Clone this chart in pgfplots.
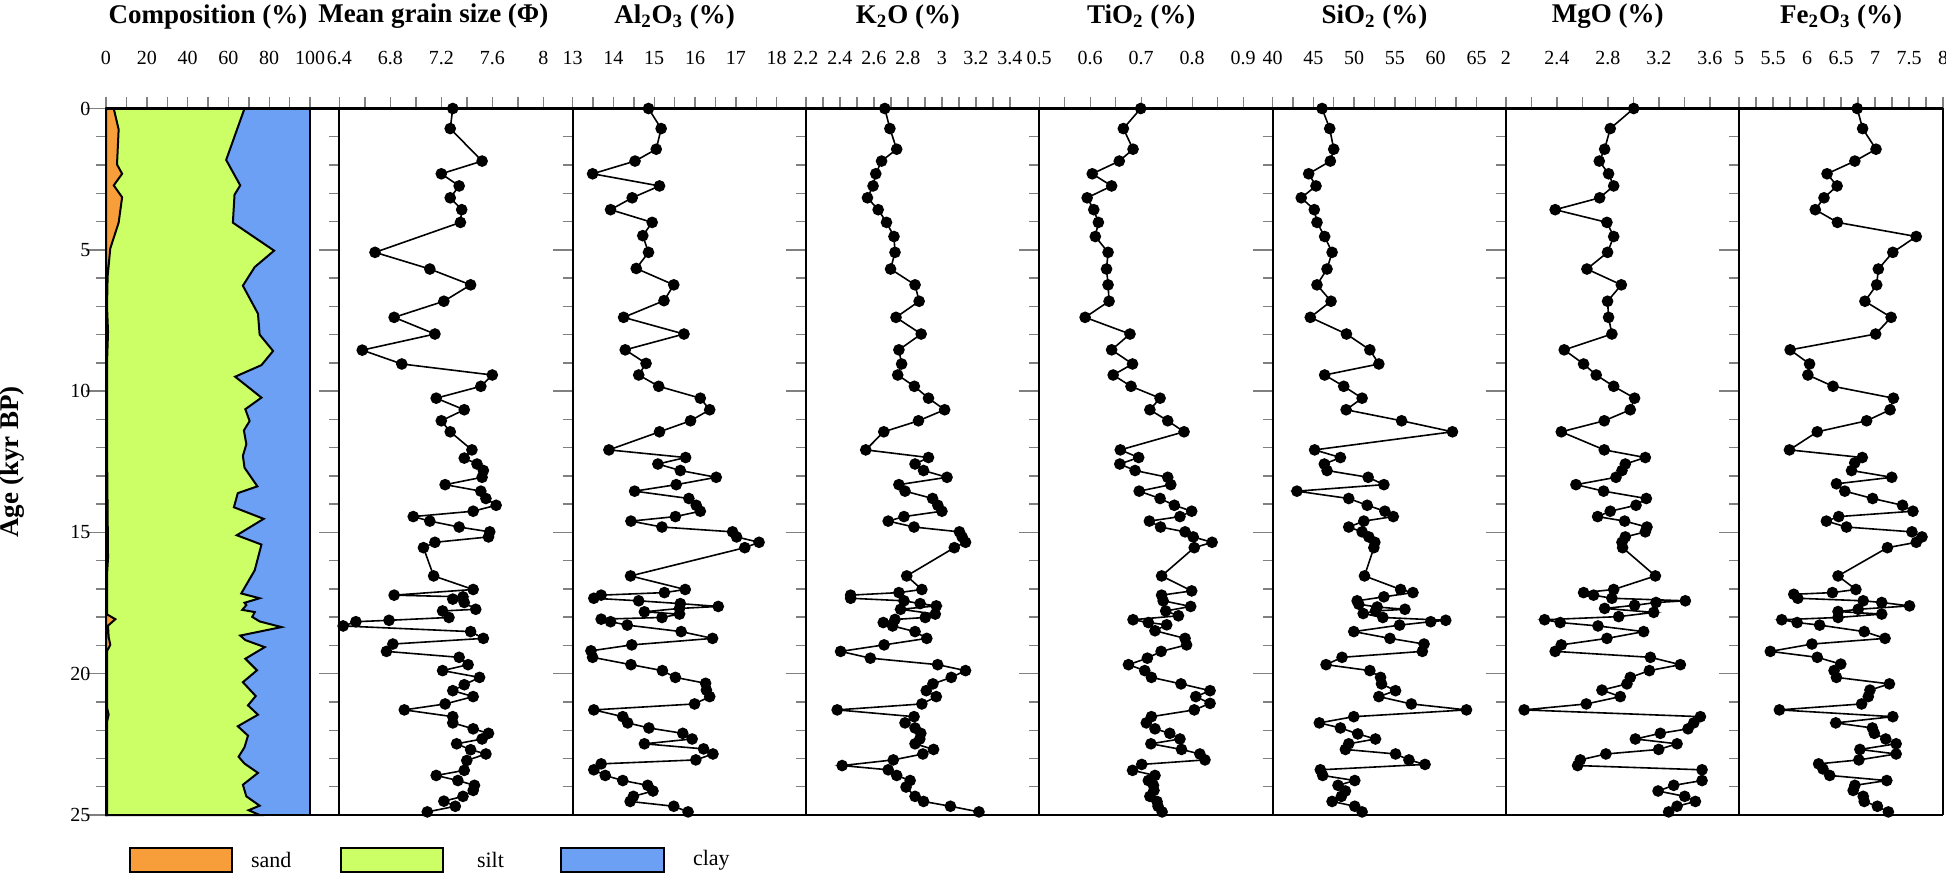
\documentclass[border=0pt]{standalone}
\usepackage{fontspec}
\setmainfont{Liberation Serif}
\usepackage{pgfplots}
\pgfplotsset{compat=1.18}
\definecolor{sandc}{RGB}{247,158,58}
\definecolor{siltc}{RGB}{204,255,102}
\definecolor{clayc}{RGB}{108,160,245}
\tikzset{ttl/.style={font=\bfseries\fontsize{13.5}{16}\selectfont, anchor=center, yshift=46pt}}
\pgfplotsset{
 panel/.style={
  scale only axis, width=102pt, height=353.25pt,
  ymin=0, ymax=25, y dir=reverse,
  axis x line*=top, axis y line*=left,
  tick align=outside,
  ytick={0,5,10,15,20,25}, minor y tick num=4,
  x axis line style={line width=1.5pt},
  y axis line style={line width=1pt},
  xtick style={line width=0.7pt, /pgfplots/major tick length=6pt, /pgfplots/minor tick length=6pt},
  ytick style={line width=0.7pt, /pgfplots/major tick length=10pt, /pgfplots/minor tick length=5pt},
  /pgf/number format/assume math mode=true,
  tick label style={font=\fontsize{10}{12}\selectfont},
  xticklabel style={yshift=14pt},
  clip=false,
 },
 ser/.style={black, line width=0.8pt, mark=*, mark size=2.5pt, mark options={solid,fill=black}},
}
\begin{document}
\begin{tikzpicture}
\useasboundingbox (0,0) rectangle (973pt,442.5pt);
% Panel 1: composition
\begin{axis}[panel, at={(53pt,35pt)}, anchor=south west,
  xmin=0, xmax=100, xtick={0,20,40,60,80,100}, minor x tick num=1,
  ylabel={Age (kyr BP)},
  ylabel style={at={(axis description cs:-0.46,0.5)}, anchor=center, font=\bfseries\fontsize{13.5}{16}\selectfont}]
\addplot[fill=clayc, draw=none] coordinates {(0,0) (100,0) (100,25) (0,25)} -- cycle;
\addplot[fill=siltc, draw=black, line width=1pt] coordinates {(0,0) (67.9,0) (58.9,1.82) (65.8,2.72) (63.0,3.05) (62.2,4.04) (82.4,5.03) (72.9,5.61) (67.1,6.27) (74.5,7.26) (75.3,8.0) (81.9,8.58) (76.2,9.08) (63.3,9.49) (76.2,10.23) (68.3,10.64) (70.4,11.06) (67.6,11.39) (68.8,11.88) (67.1,12.29) (67.9,12.71) (74.2,13.37) (64.6,13.61) (62.7,14.11) (77.3,14.52) (64.1,15.1) (76.2,15.43) (72.9,16.34) (66.3,17.16) (75.3,17.33) (67.9,17.49) (68.8,17.57) (66.8,17.74) (72.9,17.82) (71.7,17.99) (75.3,18.15) (86.0,18.35) (65.8,18.65) (68.3,18.81) (77.8,19.06) (68.3,19.47) (74.0,19.88) (67.1,20.3) (73.4,20.79) (69.6,21.12) (74.5,21.45) (64.6,21.86) (69.6,22.19) (67.9,22.6) (65.0,22.94) (67.9,23.18) (74.5,23.51) (67.1,23.93) (68.8,24.34) (75.3,24.67) (69.9,24.83) (75.3,25) (0,25)} -- cycle;
\addplot[fill=sandc, draw=black, line width=1pt] coordinates {(0,0) (3.8,0) (6.2,0.74) (5.4,1.98) (7.9,2.31) (3.8,2.72) (7.9,3.14) (6.2,4.04) (2.1,4.95) (0.8,5.94) (0.5,7.0) (1.0,7.9) (0.5,9.0) (0.5,12.0) (1.0,15.9) (0.5,16.5) (0.5,17.9) (4.6,18.07) (1.0,18.3) (1.3,18.7) (2.1,18.98) (0.5,19.2) (0.5,21.2) (1.3,21.45) (0.5,21.7) (0.5,25) (0,25)} -- cycle;
\node[ttl] at (axis description cs:0.5,1) {Composition (\%)};
\end{axis}
% Panel 2: grain size
\begin{axis}[panel, at={(169.65pt,35pt)}, anchor=south west, yticklabels={},
  xmin=6.4, xmax=8, xtick={6.4,6.8,7.2,7.6,8}, minor x tick num=1]
\addplot[ser] coordinates {(7.29,0) (7.27,0.71) (7.52,1.86) (7.20,2.31) (7.34,2.74) (7.27,3.16) (7.36,3.58) (7.35,4.03) (6.68,5.09) (7.11,5.68) (7.43,6.24) (7.22,6.82) (6.83,7.39) (7.15,7.98) (6.58,8.55) (6.89,9.04) (7.60,9.43) (7.51,9.83) (7.16,10.25) (7.38,10.66) (7.20,11.05) (7.27,11.44) (7.44,12.08) (7.38,12.37) (7.48,12.58) (7.53,12.81) (7.52,13.05) (7.23,13.31) (7.51,13.54) (7.55,13.80) (7.63,14.04) (7.45,14.25) (6.98,14.44) (7.11,14.60) (7.34,14.81) (7.58,14.98) (7.57,15.16) (7.15,15.35) (7.06,15.54) (7.14,16.54) (7.45,17.02) (6.83,17.22) (7.37,17.28) (7.29,17.36) (7.38,17.48) (7.47,17.72) (7.21,17.78) (7.26,18.01) (6.79,18.11) (6.53,18.16) (6.43,18.31) (7.43,18.51) (7.53,18.75) (6.82,18.95) (6.77,19.21) (7.34,19.42) (7.41,19.68) (7.21,19.89) (7.50,20.13) (7.38,20.39) (7.29,20.60) (7.45,20.81) (7.23,21.07) (6.91,21.28) (7.29,21.52) (7.29,21.74) (7.45,21.95) (7.57,22.11) (7.52,22.31) (7.32,22.48) (7.43,22.69) (7.55,22.84) (7.40,23.07) (7.38,23.42) (7.16,23.60) (7.33,23.78) (7.46,23.95) (7.45,24.13) (7.37,24.34) (7.22,24.51) (7.31,24.69) (7.09,24.89)};
\node[ttl, xshift=-4pt] at (axis description cs:0.5,1) {Mean grain size (Φ)};
\end{axis}
% Panel 3: Al2O3
\begin{axis}[panel, at={(286.3pt,35pt)}, anchor=south west, yticklabels={},
  xmin=13, xmax=18, xtick={13,14,15,16,17,18}, minor x tick num=1]
\addplot[ser] coordinates {(14.86,0) (15.17,0.71) (15.05,1.44) (14.53,1.86) (13.49,2.31) (15.13,2.74) (14.46,3.16) (13.93,3.58) (14.95,4.03) (14.72,4.50) (14.86,5.09) (14.56,5.66) (15.48,6.24) (15.24,6.80) (14.25,7.39) (15.73,7.98) (14.29,8.54) (14.80,9.02) (14.62,9.43) (15.11,9.83) (16.13,10.25) (16.36,10.66) (15.89,11.05) (15.13,11.44) (13.89,12.08) (15.77,12.35) (15.09,12.58) (15.64,12.81) (16.52,13.05) (15.54,13.31) (14.52,13.54) (15.85,13.80) (16.03,14.04) (16.13,14.25) (15.52,14.44) (14.43,14.60) (15.19,14.81) (16.92,14.98) (17.02,15.16) (17.57,15.35) (17.22,15.54) (14.42,16.54) (15.76,17.02) (15.25,17.13) (13.70,17.22) (13.52,17.33) (14.62,17.42) (15.64,17.52) (16.57,17.62) (15.62,17.69) (14.76,17.81) (15.62,17.89) (15.19,18.01) (13.70,18.07) (13.93,18.16) (14.34,18.28) (15.66,18.51) (16.43,18.75) (14.45,18.98) (13.45,19.19) (13.49,19.42) (14.43,19.68) (15.20,19.89) (15.52,20.13) (16.26,20.34) (16.28,20.58) (16.36,20.81) (15.99,21.07) (13.52,21.28) (14.23,21.52) (14.35,21.74) (14.87,21.92) (15.70,22.11) (15.93,22.31) (14.76,22.48) (16.21,22.66) (16.44,22.84) (16.02,23.05) (13.70,23.19) (13.52,23.40) (13.80,23.60) (14.23,23.78) (14.84,23.95) (14.97,24.15) (14.49,24.34) (14.41,24.52) (15.48,24.69) (15.83,24.89)};
\node[ttl] at (axis description cs:0.5,1) {Al\textsubscript{2}O\textsubscript{3} (\%)};
\end{axis}
% Panel 4: K2O
\begin{axis}[panel, at={(402.95pt,35pt)}, anchor=south west, yticklabels={},
  xmin=2.2, xmax=3.4, xtick={2.2,2.4,2.6,2.8,3,3.2,3.4}, minor x tick num=1]
\addplot[ser] coordinates {(2.664,0) (2.694,0.71) (2.734,1.44) (2.645,1.86) (2.611,2.31) (2.595,2.74) (2.562,3.16) (2.625,3.58) (2.674,4.03) (2.718,4.53) (2.724,5.09) (2.698,5.68) (2.842,6.24) (2.866,6.82) (2.730,7.39) (2.878,7.98) (2.747,8.54) (2.763,9.04) (2.740,9.43) (2.838,9.83) (2.921,10.25) (3.016,10.66) (2.862,11.05) (2.658,11.44) (2.552,12.08) (2.921,12.35) (2.842,12.58) (2.892,12.81) (3.030,13.05) (2.747,13.31) (2.783,13.54) (2.945,13.80) (2.976,14.04) (3.000,14.25) (2.777,14.44) (2.684,14.60) (2.836,14.81) (3.103,14.98) (3.119,15.16) (3.139,15.35) (3.073,15.54) (2.793,16.54) (2.882,17.02) (2.747,17.13) (2.463,17.22) (2.463,17.33) (2.777,17.42) (2.872,17.52) (2.967,17.60) (2.757,17.72) (2.961,17.89) (2.902,18.01) (2.724,18.08) (2.655,18.19) (2.710,18.31) (2.842,18.51) (2.911,18.75) (2.660,18.98) (2.404,19.21) (2.579,19.45) (2.975,19.68) (3.139,19.89) (3.055,20.13) (2.947,20.36) (2.908,20.60) (2.967,20.81) (2.882,21.07) (2.384,21.28) (2.836,21.52) (2.783,21.74) (2.842,21.92) (2.876,22.11) (2.870,22.31) (2.842,22.48) (2.951,22.68) (2.888,22.84) (2.714,23.05) (2.413,23.25) (2.684,23.40) (2.734,23.60) (2.813,23.78) (2.789,24.01) (2.842,24.34) (2.892,24.52) (3.050,24.69) (3.218,24.89)};
\node[ttl] at (axis description cs:0.5,1) {K\textsubscript{2}O (\%)};
\end{axis}
% Panel 5: TiO2
\begin{axis}[panel, at={(519.6pt,35pt)}, anchor=south west, yticklabels={},
  xmin=0.5, xmax=0.9, xtick={0.5,0.6,0.7,0.8,0.9}, minor x tick num=1]
\addplot[ser] coordinates {(0.699,0) (0.665,0.71) (0.684,1.44) (0.657,1.86) (0.604,2.31) (0.642,2.74) (0.594,3.16) (0.607,3.58) (0.616,4.03) (0.610,4.53) (0.635,5.09) (0.632,5.68) (0.635,6.24) (0.637,6.82) (0.590,7.39) (0.678,7.98) (0.642,8.54) (0.683,9.04) (0.645,9.43) (0.680,9.83) (0.737,10.25) (0.717,10.66) (0.752,11.05) (0.784,11.44) (0.659,12.08) (0.695,12.35) (0.658,12.58) (0.688,12.81) (0.752,13.05) (0.758,13.31) (0.696,13.54) (0.737,13.80) (0.765,14.04) (0.799,14.25) (0.776,14.44) (0.716,14.60) (0.738,14.81) (0.786,14.98) (0.802,15.16) (0.839,15.35) (0.804,15.54) (0.740,16.54) (0.799,17.07) (0.740,17.22) (0.743,17.42) (0.797,17.62) (0.748,17.78) (0.773,17.95) (0.684,18.09) (0.714,18.19) (0.750,18.27) (0.727,18.48) (0.786,18.75) (0.789,18.98) (0.739,19.21) (0.712,19.45) (0.675,19.68) (0.707,19.89) (0.720,20.13) (0.778,20.36) (0.835,20.60) (0.807,20.81) (0.835,21.05) (0.804,21.28) (0.720,21.52) (0.710,21.74) (0.727,21.95) (0.756,22.11) (0.776,22.31) (0.719,22.48) (0.779,22.68) (0.815,22.84) (0.825,23.05) (0.701,23.21) (0.683,23.42) (0.727,23.60) (0.714,23.78) (0.724,23.95) (0.725,24.13) (0.717,24.34) (0.731,24.52) (0.733,24.69) (0.741,24.89)};
\node[ttl] at (axis description cs:0.5,1) {TiO\textsubscript{2} (\%)};
\end{axis}
% Panel 6: SiO2
\begin{axis}[panel, at={(636.25pt,35pt)}, anchor=south west, yticklabels={},
  xmin=40, xmax=65, xtick={40,45,50,55,60,65}, minor x tick num=1]
\addplot[ser] coordinates {(46.07,0) (47.01,0.71) (47.50,1.44) (47.09,1.86) (44.43,2.31) (45.33,2.74) (43.52,3.16) (45.12,3.58) (45.45,4.03) (46.39,4.53) (47.30,5.09) (46.68,5.68) (45.45,6.24) (47.17,6.82) (44.63,7.39) (49.06,7.98) (51.93,8.54) (53.03,9.04) (46.39,9.43) (48.73,9.83) (50.98,10.25) (49.02,10.66) (55.82,11.05) (62.05,11.44) (45.16,12.08) (48.32,12.35) (46.35,12.58) (46.68,12.81) (51.72,13.05) (53.65,13.31) (42.99,13.54) (49.34,13.80) (51.60,14.04) (53.77,14.25) (54.80,14.44) (51.19,14.60) (49.34,14.81) (50.98,14.98) (51.80,15.16) (52.54,15.35) (52.42,15.54) (51.27,16.54) (55.70,17.02) (57.21,17.13) (53.65,17.28) (50.37,17.42) (50.57,17.54) (52.83,17.64) (56.23,17.72) (52.62,17.78) (51.11,17.87) (53.52,18.01) (61.23,18.11) (59.39,18.16) (55.57,18.28) (49.96,18.51) (54.39,18.75) (58.57,18.95) (58.36,19.21) (48.52,19.42) (46.56,19.68) (51.93,19.89) (53.24,20.13) (53.36,20.36) (55.08,20.60) (53.03,20.81) (57.01,21.07) (63.77,21.28) (49.96,21.52) (45.74,21.74) (48.32,21.92) (50.45,22.13) (52.62,22.31) (49.34,22.48) (48.93,22.68) (55.08,22.84) (56.72,23.05) (58.69,23.21) (45.86,23.40) (46.15,23.60) (50.08,23.78) (48.03,23.95) (48.93,24.15) (48.44,24.34) (47.30,24.52) (50.08,24.69) (50.98,24.89)};
\node[ttl] at (axis description cs:0.5,1) {SiO\textsubscript{2} (\%)};
\end{axis}
% Panel 7: MgO
\begin{axis}[panel, at={(752.9pt,35pt)}, anchor=south west, yticklabels={},
  xmin=2, xmax=3.6, xtick={2,2.4,2.8,3.2,3.6}, minor x tick num=1]
\addplot[ser] coordinates {(3.003,0) (2.819,0.71) (2.775,1.44) (2.733,1.86) (2.806,2.31) (2.846,2.74) (2.736,3.16) (2.387,3.58) (2.793,4.03) (2.846,4.53) (2.798,5.09) (2.636,5.68) (2.906,6.24) (2.798,6.82) (2.806,7.39) (2.832,7.98) (2.458,8.54) (2.610,9.04) (2.709,9.43) (2.846,9.83) (3.010,10.25) (2.976,10.66) (2.772,11.05) (2.435,11.44) (2.772,12.08) (3.094,12.35) (2.937,12.58) (2.911,12.81) (2.864,13.05) (2.550,13.31) (2.767,13.54) (3.102,13.80) (3.021,14.04) (2.819,14.25) (2.720,14.44) (2.932,14.60) (3.107,14.81) (3.094,14.98) (2.937,15.16) (2.911,15.35) (2.916,15.54) (3.173,16.54) (2.846,17.02) (2.610,17.13) (2.688,17.22) (2.832,17.33) (3.408,17.42) (3.178,17.48) (3.010,17.58) (2.775,17.69) (3.160,17.83) (2.885,17.98) (2.304,18.09) (2.427,18.19) (2.723,18.31) (3.081,18.51) (2.793,18.75) (2.435,18.98) (2.387,19.21) (3.134,19.42) (3.369,19.68) (3.126,19.89) (2.976,20.13) (2.950,20.36) (2.754,20.58) (2.898,20.81) (2.631,21.07) (2.144,21.28) (3.526,21.52) (3.474,21.74) (3.429,21.95) (3.212,22.11) (3.016,22.31) (3.343,22.48) (3.199,22.68) (2.785,22.84) (2.584,23.05) (2.563,23.25) (3.539,23.40) (3.539,23.78) (3.317,23.95) (3.194,24.15) (3.403,24.34) (3.487,24.52) (3.343,24.69) (3.277,24.89)};
\node[ttl] at (axis description cs:0.5,1) {MgO (\%)};
\end{axis}
% Panel 8: Fe2O3
\begin{axis}[panel, at={(869.55pt,35pt)}, anchor=south west, yticklabels={},
  xmin=5, xmax=8, xtick={5,5.5,6,6.5,7,7.5,8}, minor x tick num=1]
\addplot[ser] coordinates {(6.737,0) (6.816,0.71) (7.013,1.44) (6.702,1.86) (6.293,2.31) (6.441,2.74) (6.248,3.16) (6.120,3.58) (6.446,4.03) (7.605,4.53) (7.260,5.09) (7.047,5.68) (7.023,6.24) (6.850,6.82) (7.235,7.39) (7.008,7.98) (5.750,8.54) (6.036,9.04) (6.011,9.43) (6.381,9.83) (7.269,10.25) (7.220,10.66) (6.875,11.05) (6.149,11.44) (5.740,12.08) (6.811,12.35) (6.700,12.54) (6.653,12.81) (7.245,13.05) (6.431,13.28) (6.554,13.54) (6.963,13.80) (7.403,14.04) (7.556,14.25) (6.465,14.44) (6.283,14.60) (6.579,14.81) (7.541,14.98) (7.689,15.16) (7.605,15.35) (7.181,15.54) (6.455,16.54) (6.717,17.02) (6.372,17.13) (5.804,17.19) (5.863,17.33) (6.825,17.42) (7.097,17.48) (7.506,17.60) (6.751,17.72) (6.455,17.80) (7.097,17.89) (6.455,18.01) (5.627,18.09) (5.853,18.19) (6.184,18.28) (6.840,18.51) (7.146,18.75) (6.071,18.95) (5.459,19.21) (6.149,19.42) (6.495,19.66) (6.396,19.89) (6.431,20.13) (7.210,20.36) (6.924,20.58) (6.899,20.81) (6.801,21.07) (5.592,21.28) (7.260,21.52) (6.421,21.74) (6.959,21.92) (6.988,22.11) (7.156,22.31) (7.309,22.48) (6.776,22.68) (7.309,22.84) (6.761,23.05) (6.169,23.19) (6.233,23.37) (6.332,23.60) (7.171,23.78) (6.702,23.95) (6.677,24.13) (6.825,24.34) (6.840,24.52) (7.033,24.69) (7.195,24.89)};
\node[ttl] at (axis description cs:0.5,1) {Fe\textsubscript{2}O\textsubscript{3} (\%)};
\end{axis}
% frame lines
\draw[line width=1.5pt] (53pt,388.25pt) -- (971.55pt,388.25pt);
\draw[line width=1pt] (53pt,35pt) -- (971.55pt,35pt);
\draw[line width=1pt] (155pt,35pt) -- (155pt,388.25pt);
\draw[line width=1pt] (971.55pt,35pt) -- (971.55pt,388.25pt);
% legend
\draw[line width=0.8pt, fill=sandc] (65pt,6.5pt) rectangle (116pt,18.5pt);
\node[anchor=west, font=\fontsize{11}{13}\selectfont] at (122pt,12.5pt) {sand};
\draw[line width=0.8pt, fill=siltc] (170.5pt,6.5pt) rectangle (221.5pt,18.5pt);
\node[anchor=west, font=\fontsize{11}{13}\selectfont] at (235pt,12.5pt) {silt};
\draw[line width=0.8pt, fill=clayc] (280.5pt,6.5pt) rectangle (332pt,18.5pt);
\node[anchor=west, font=\fontsize{11}{13}\selectfont] at (343pt,12.5pt) {clay};
\end{tikzpicture}
\end{document}
